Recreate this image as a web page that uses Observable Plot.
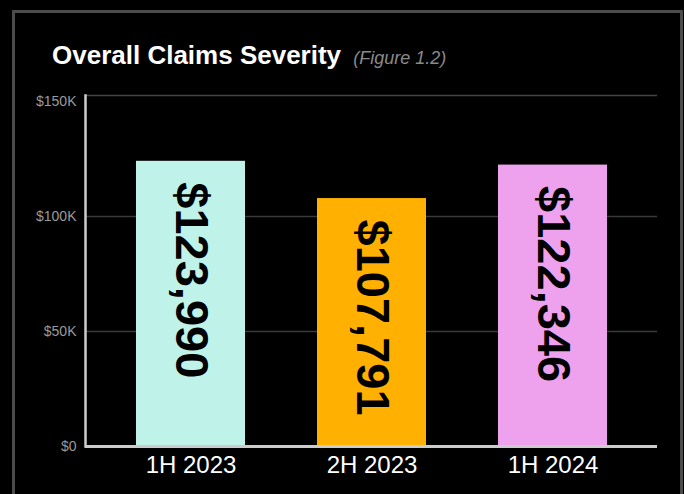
<!DOCTYPE html>
<html>
<head>
<meta charset="utf-8">
<script src="https://cdn.jsdelivr.net/npm/d3@7"></script>
<script src="https://cdn.jsdelivr.net/npm/@observablehq/plot@0.6"></script>
<style>
  html, body { margin: 0; padding: 0; background: #000; width: 684px; height: 494px; overflow: hidden; }
  #frame { position: absolute; left: 12px; top: 10px; width: 665px; height: 520px; border: 3px solid #4b4b4b; box-sizing: content-box; }
  #chart { position: absolute; left: 0; top: 0; }
  #title { position: absolute; left: 52px; top: 43px; font-family: "Liberation Sans", Arial, sans-serif; font-size: 26px; line-height: 25px; font-weight: bold; color: #fff; white-space: nowrap; }
  #title span { font-size: 18px; font-weight: normal; font-style: italic; color: #8a8a8a; margin-left: 5px; }
</style>
</head>
<body>
<div id="frame"></div>
<div id="chart"></div>
<div id="title">Overall Claims Severity <span>(Figure 1.2)</span></div>
<script>
const categories = ["1H 2023", "2H 2023", "1H 2024"];
const values = [123990, 107791, 122346];
const colors = ["#BFF3EA", "#FFB000", "#EEA2EE"];
const yTicks = [0, 50000, 100000, 150000];
const yTickLabels = ["$0", "$50K", "$100K", "$150K"];
const gridValues = [50000, 100000];
const yMax = 152600;

const data = categories.map((c, i) => ({cat: c, value: values[i]}));
const fmt = d3.format(",");

const chart = Plot.plot({
  width: 684,
  height: 494,
  marginTop: 95,
  marginBottom: 48,
  marginLeft: 85,
  marginRight: 27,
  style: {background: "transparent", color: "#fff", fontFamily: "'Liberation Sans', Arial, sans-serif"},
  x: {domain: categories, paddingInner: 0.4, paddingOuter: 0.28, axis: null},
  y: {domain: [0, yMax], axis: null},
  color: {domain: categories, range: colors},
  marks: [
    Plot.ruleY(gridValues, {stroke: "#3a3a3a", strokeWidth: 1.5}),
    Plot.ruleY([yMax], {stroke: "#444", strokeWidth: 1.5}),
    Plot.barY(data, {x: "cat", y: "value", fill: "cat"}),
    Plot.text(data, {
      x: "cat", y: "value",
      text: d => "$" + fmt(d.value),
      rotate: 90, textAnchor: "start", lineAnchor: "middle",
      dy: 21, fontSize: 47, fontWeight: "bold", fill: "#000"
    }),
    Plot.axisY(yTicks, {
      tickFormat: d => yTickLabels[yTicks.indexOf(d)],
      tickSize: 0, tickPadding: 9, fontSize: 14, color: "#9a9a9a", label: null
    }),
    Plot.axisX({tickSize: 0, tickPadding: 9, fontSize: 24, color: "#fff", label: null}),
    Plot.frame({anchor: "left", stroke: "#cccccc", strokeWidth: 2.5}),
    Plot.ruleY([0], {stroke: "#cccccc", strokeWidth: 3})
  ]
});
document.getElementById("chart").appendChild(chart);
</script>
</body>
</html>
